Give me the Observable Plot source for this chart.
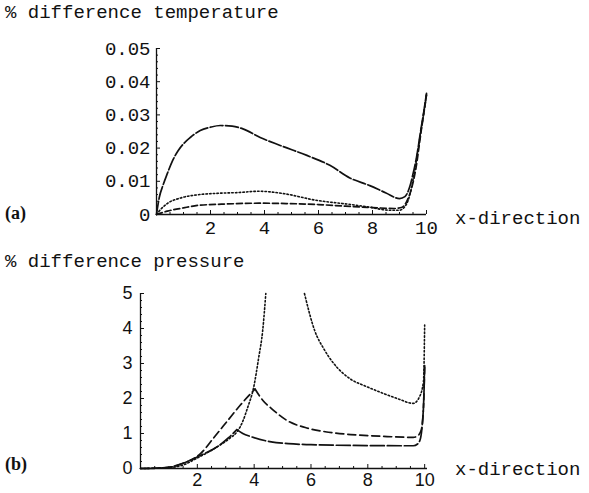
<!DOCTYPE html>
<html><head><meta charset="utf-8">
<script src="https://cdn.jsdelivr.net/npm/d3@7"></script>
<script src="https://cdn.jsdelivr.net/npm/@observablehq/plot@0.6"></script>
<style>
body{margin:0;background:#fff;}
#wrap{position:relative;width:589px;height:493px;overflow:hidden;background:#fff;}
#wrap > svg{position:absolute;left:0;}
</style></head><body>
<div id="wrap"></div>
<script>
// ---------- Panel (a): % difference temperature ----------
const tLongX = [0, 0.1, 0.25, 0.4, 0.6, 0.8, 1.0, 1.25, 1.62, 2.0, 2.36, 2.8, 3.2, 3.84, 4.58, 5.57, 6.42, 7.16, 7.9, 8.5, 9.0, 9.2, 9.37, 9.5, 9.63, 9.8, 9.9, 10];
const tLongY = [0, 0.005, 0.009, 0.0123, 0.0163, 0.0192, 0.0213, 0.0232, 0.0253, 0.0263, 0.0268, 0.0266, 0.0258, 0.0232, 0.0208, 0.0178, 0.0148, 0.011, 0.0087, 0.0065, 0.0048, 0.0054, 0.0081, 0.0122, 0.0172, 0.026, 0.031, 0.0365];
const tDotX = [0, 0.15, 0.4, 0.9, 1.6, 2.3, 3.0, 3.8, 4.7, 5.9, 7.2, 7.9, 8.6, 9.0, 9.25, 9.4, 9.5, 9.63, 9.8, 9.9, 10];
const tDotY = [0, 0.0015, 0.0033, 0.005, 0.006, 0.0064, 0.0066, 0.007, 0.0063, 0.0043, 0.003, 0.0022, 0.0013, 0.0013, 0.003, 0.0065, 0.0105, 0.0165, 0.0255, 0.0305, 0.036];
const tDashX = [0, 0.4, 1.0, 1.6, 2.4, 3.8, 4.8, 6.0, 7.0, 8.0, 8.8, 9.1, 9.3, 9.45, 9.6, 9.8, 9.9, 10];
const tDashY = [0, 0.001, 0.002, 0.0028, 0.0031, 0.0034, 0.0033, 0.003, 0.0025, 0.0021, 0.0018, 0.0022, 0.0045, 0.008, 0.0135, 0.025, 0.0305, 0.036];
const aYTicks = [0, 0.01, 0.02, 0.03, 0.04, 0.05];
const aYMinor = [0.002,0.004,0.006,0.008,0.012,0.014,0.016,0.018,0.022,0.024,0.026,0.028,0.032,0.034,0.036,0.038,0.042,0.044,0.046,0.048];
const xTicks = [2, 4, 6, 8, 10];
const xMinor = [0.5,1,1.5,2.5,3,3.5,4.5,5,5.5,6.5,7,7.5,8.5,9,9.5];

// ---------- Panel (b): % difference pressure ----------
// seg: 0 = rising branch, 1 = falling branch (keeps the cusps sharp)
const pLongX = [0, 0.5, 0.95, 1.5, 2.1, 2.7, 3.1, 3.39, 3.39, 3.6, 3.89, 4.6, 5.2, 6.0, 7.4, 9.6, 9.75, 9.85, 9.92, 9.97, 10];
const pLongY = [0, 0.005, 0.03, 0.15, 0.37, 0.62, 0.88, 1.11, 1.11, 1.0, 0.91, 0.76, 0.71, 0.68, 0.66, 0.65, 0.7, 0.85, 1.3, 2.0, 2.94];
const pLongSeg = [0,0,0,0,0,0,0,0,1,1,1,1,1,1,1,1,1,1,1,1,1];
const pDashX = [0, 1.0, 1.5, 2.12, 2.6, 3.07, 3.5, 4.03, 4.03, 4.3, 4.6, 5.2, 5.8, 6.5, 7.4, 8.5, 9.6, 9.75, 9.88, 9.95, 10];
const pDashY = [0, 0.03, 0.15, 0.43, 0.9, 1.37, 1.8, 2.27, 2.27, 1.95, 1.72, 1.35, 1.17, 1.05, 0.97, 0.92, 0.89, 0.93, 1.1, 1.6, 2.94];
const pDashSeg = [0,0,0,0,0,0,0,0,1,1,1,1,1,1,1,1,1,1,1,1,1];
const pDotX = [0, 0.9, 1.5, 2.0, 2.56, 3.15, 3.4, 3.6, 3.77, 3.98, 4.16, 4.3, 4.41, 5.77, 6.13, 6.45, 6.8, 7.4, 7.9, 8.5, 9.1, 9.6, 9.82, 9.96, 10];
const pDotY = [0, 0.02, 0.1, 0.3, 0.55, 0.87, 1.05, 1.35, 1.74, 2.31, 3.17, 3.94, 5.0, 5.0, 3.94, 3.42, 3.0, 2.55, 2.36, 2.16, 1.98, 1.86, 2.05, 2.5, 4.1];
const pDotSeg = [0,0,0,0,0,0,0,0,0,0,0,0,0,1,1,1,1,1,1,1,1,1,1,1,1];
const bYTicks = [0, 1, 2, 3, 4, 5];
const bYMinor = [0.2,0.4,0.6,0.8,1.2,1.4,1.6,1.8,2.2,2.4,2.6,2.8,3.2,3.4,3.6,3.8,4.2,4.4,4.6,4.8];

const pts = (xs, ys, seg) => xs.map((x, i) => ({x, y: ys[i], s: seg ? seg[i] : 0}));
const ink = "#111";

const plotA = Plot.plot({
  width: 589, height: 240,
  marginTop: 48, marginBottom: 26, marginLeft: 156, marginRight: 163,
  style: {fontFamily: "'Liberation Mono', monospace", fontSize: "19px", color: ink, background: "transparent", overflow: "visible"},
  x: {domain: [0, 10], label: null},
  y: {domain: [0, 0.05], label: null},
  marks: [
    Plot.ruleY([0], {stroke: ink, strokeWidth: 1.3}),
    Plot.ruleX([0], {stroke: ink, strokeWidth: 1.3}),
    Plot.axisX(xTicks, {tickSize: -4, tickPadding: 10, label: null, tickFormat: d => String(d)}),
    Plot.axisX(xMinor, {tickSize: -2, label: null, tickFormat: () => ""}),
    Plot.axisY(aYTicks, {tickSize: -4, tickPadding: 10, label: null, tickFormat: d => d === 0 ? "0" : d.toFixed(2)}),
    Plot.axisY(aYMinor, {tickSize: -2, label: null, tickFormat: () => ""}),
    Plot.line(pts(tLongX, tLongY), {x: "x", y: "y", stroke: ink, strokeWidth: 1.7, strokeDasharray: "13,2.5", curve: "monotone-x"}),
    Plot.line(pts(tDotX, tDotY), {x: "x", y: "y", stroke: ink, strokeWidth: 1.6, strokeDasharray: "1.5,2.2", curve: "monotone-x"}),
    Plot.line(pts(tDashX, tDashY), {x: "x", y: "y", stroke: ink, strokeWidth: 1.7, strokeDasharray: "6,3", curve: "monotone-x"})
  ]
});

const plotB = Plot.plot({
  width: 589, height: 243,
  marginTop: 43, marginBottom: 25, marginLeft: 140, marginRight: 162,
  style: {fontFamily: "'Liberation Sans', sans-serif", fontSize: "18px", color: ink, background: "transparent", overflow: "visible"},
  x: {domain: [0, 10.1], label: null},
  y: {domain: [0, 5], label: null},
  marks: [
    Plot.ruleY([0], {stroke: ink, strokeWidth: 1.3}),
    Plot.ruleX([0], {stroke: ink, strokeWidth: 1.3}),
    Plot.axisX(xTicks, {tickSize: -4, tickPadding: 9, label: null, tickFormat: d => String(d)}),
    Plot.axisX(xMinor, {tickSize: -2, label: null, tickFormat: () => ""}),
    Plot.axisY(bYTicks, {tickSize: -4, tickPadding: 12, label: null, tickFormat: d => String(d)}),
    Plot.axisY(bYMinor, {tickSize: -2, label: null, tickFormat: () => ""}),
    Plot.line(pts(pLongX, pLongY, pLongSeg), {x: "x", y: "y", z: "s", stroke: ink, strokeWidth: 1.7, strokeDasharray: "14,3", curve: "monotone-x"}),
    Plot.line(pts(pDashX, pDashY, pDashSeg), {x: "x", y: "y", z: "s", stroke: ink, strokeWidth: 1.7, strokeDasharray: "8,4", curve: "monotone-x"}),
    Plot.line(pts(pDotX, pDotY, pDotSeg), {x: "x", y: "y", z: "s", stroke: ink, strokeWidth: 1.6, strokeDasharray: "1.5,2.2", curve: "monotone-x"})
  ]
});

const wrap = document.getElementById("wrap");
plotA.style.top = "0px";
plotB.style.top = "250px";
wrap.appendChild(plotA);
wrap.appendChild(plotB);

// overlay labels
const labels = [
  {t: "% difference temperature", x: 5, y: 18, f: "mono"},
  {t: "x-direction", x: 455, y: 224, f: "mono"},
  {t: "(a)", x: 5, y: 219, f: "serif"},
  {t: "% difference pressure", x: 5, y: 267, f: "mono"},
  {t: "x-direction", x: 455, y: 475, f: "mono"},
  {t: "(b)", x: 5, y: 470, f: "serif"}
];
const svg = d3.select(wrap).append("svg").attr("width", 589).attr("height", 493).style("top", "0px");
svg.selectAll("text").data(labels).join("text")
  .attr("x", d => d.x).attr("y", d => d.y)
  .attr("fill", ink)
  .attr("font-family", d => d.f === "mono" ? "'Liberation Mono', monospace" : "'Liberation Serif', serif")
  .attr("font-weight", d => d.f === "mono" ? "normal" : "bold")
  .attr("font-size", d => d.f === "mono" ? 19 : 18)
  .attr("xml:space", "preserve")
  .text(d => d.t);
</script>
</body></html>
